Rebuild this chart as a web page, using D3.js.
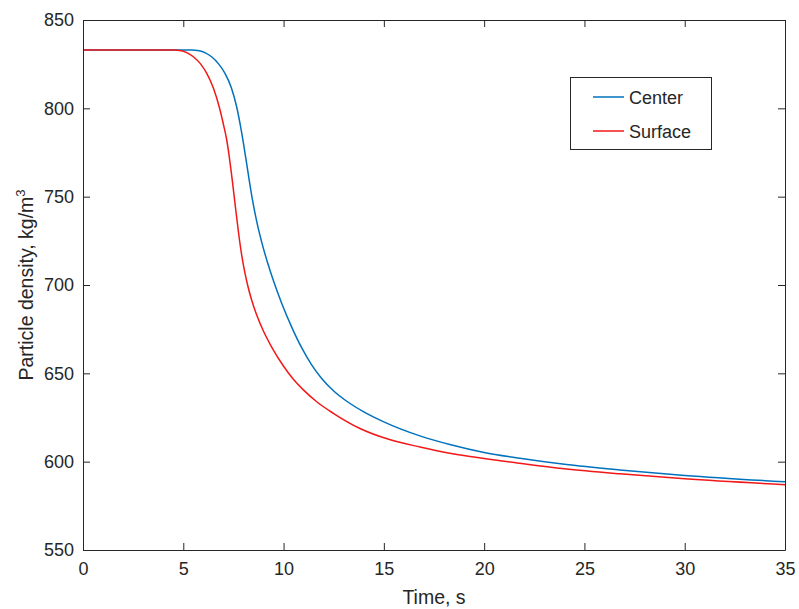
<!DOCTYPE html>
<html><head><meta charset="utf-8">
<script src="https://cdn.jsdelivr.net/npm/d3@7"></script>
<style>body{margin:0;background:#fff}svg{display:block}text{font-family:"Liberation Sans",Arial,sans-serif;fill:#262626}</style>
</head><body>
<svg id="c" width="799" height="609"></svg>
<script>
const xTicks = [0,5,10,15,20,25,30,35];
const yTicks = [550,600,650,700,750,800,850];
const centerT = [0,5.4,5.8,6.1,6.41,6.75,7.08,7.4,7.66,7.85,8.0,8.15,8.3,8.45,8.65,8.9,9.2,9.5,9.9,10.4,10.9,11.4,11.9,12.5,13.15,14.0,14.97,16.8,18.29,20,21.78,24,26.77,30,35];
const centerV = [833,833,832.6,831.4,829.2,825.3,819.8,811.5,800.9,790.1,780.2,769.4,758.4,748.2,736.6,724.7,712.7,702.2,689.8,676.3,664.5,654.8,647.1,640.0,634.2,628.2,622.7,614.6,609.7,605.2,601.9,598.5,595.3,592.2,588.6];
const surfaceT = [0,4.5,4.9,5.2,5.5,5.85,6.17,6.5,6.79,7.0,7.16,7.3,7.44,7.6,7.75,7.9,8.05,8.2,8.4,8.66,9.0,9.4,10.0,10.5,11.0,11.7,12.48,13.81,15.2,16.8,18.29,20,21.78,24,26.77,30,35];
const surfaceV = [833,833,832.6,831.4,829.2,825.3,819.8,811.5,800.9,791,782.5,772,759.5,744.1,730,717.8,708.1,700.3,691.8,683,673.8,665,654,646.5,640.5,633.5,627.4,618.8,612.8,608.3,604.8,601.8,599.1,596,593.1,590.3,587];
const seriesNames = ["Center","Surface"];
const seriesColors = ["#0072BD","#F21818"];

const L=83,R=785,T=20,B=550;
const svg=d3.select("#c");
const x=d3.scaleLinear().domain([0,35]).range([L,R]);
const y=d3.scaleLinear().domain([550,850]).range([B,T]);
const axCol="#262626";

svg.append("defs").append("clipPath").attr("id","clip").append("rect").attr("x",L).attr("y",T).attr("width",R-L).attr("height",B-T);

const line=d3.line().x(d=>x(d[0])).y(d=>y(d[1])).curve(d3.curveMonotoneX);
const data=[d3.zip(centerT,centerV), d3.zip(surfaceT,surfaceV)];
svg.append("g").attr("clip-path","url(#clip)").selectAll("path").data(data).join("path")
  .attr("d",line).attr("fill","none").attr("stroke",(d,i)=>seriesColors[i]).attr("stroke-width",1.5);

const tl=7;
const gB=svg.append("g").attr("transform",`translate(0,${B})`).call(d3.axisBottom(x).tickValues(xTicks).tickSizeInner(-tl).tickSizeOuter(0).tickPadding(16));
const gT=svg.append("g").attr("transform",`translate(0,${T})`).call(d3.axisTop(x).tickValues(xTicks).tickSizeInner(-tl).tickSizeOuter(0).tickFormat(""));
const gL=svg.append("g").attr("transform",`translate(${L},0)`).call(d3.axisLeft(y).tickValues(yTicks).tickSizeInner(-tl).tickSizeOuter(0).tickPadding(16));
const gR=svg.append("g").attr("transform",`translate(${R},0)`).call(d3.axisRight(y).tickValues(yTicks).tickSizeInner(-tl).tickSizeOuter(0).tickFormat(""));
[gB,gT,gL,gR].forEach(g=>{
  g.select(".domain").attr("stroke",axCol).attr("stroke-width",1);
  g.selectAll(".tick line").attr("stroke",axCol);
  g.selectAll(".tick text").attr("font-size",18).attr("fill",axCol).style("font-family","'Liberation Sans',Arial,sans-serif");
});
gL.selectAll(".tick text").attr("x",-9);
gB.selectAll(".tick text").attr("y",12);

svg.append("text").attr("x",(L+R)/2).attr("y",604).attr("text-anchor","middle").attr("font-size",19.5).text("Time, s");
const yl=svg.append("text").attr("transform",`translate(33,${(T+B)/2}) rotate(-90)`).attr("text-anchor","middle").attr("font-size",19.5);
yl.append("tspan").text("Particle density, kg/m");
yl.append("tspan").attr("font-size",13).attr("dy",-8).text("3");

const lg=svg.append("g");
lg.append("rect").attr("x",570.5).attr("y",77.5).attr("width",141).attr("height",72).attr("fill","#fff").attr("stroke",axCol).attr("stroke-width",1);
const ly=[97,131];
seriesNames.forEach((n,i)=>{
  lg.append("line").attr("x1",593).attr("x2",624).attr("y1",ly[i]).attr("y2",ly[i]).attr("stroke",seriesColors[i]).attr("stroke-width",1.5);
  lg.append("text").attr("x",629).attr("y",ly[i]+6.5).attr("font-size",18).text(n);
});
</script>
</body></html>
